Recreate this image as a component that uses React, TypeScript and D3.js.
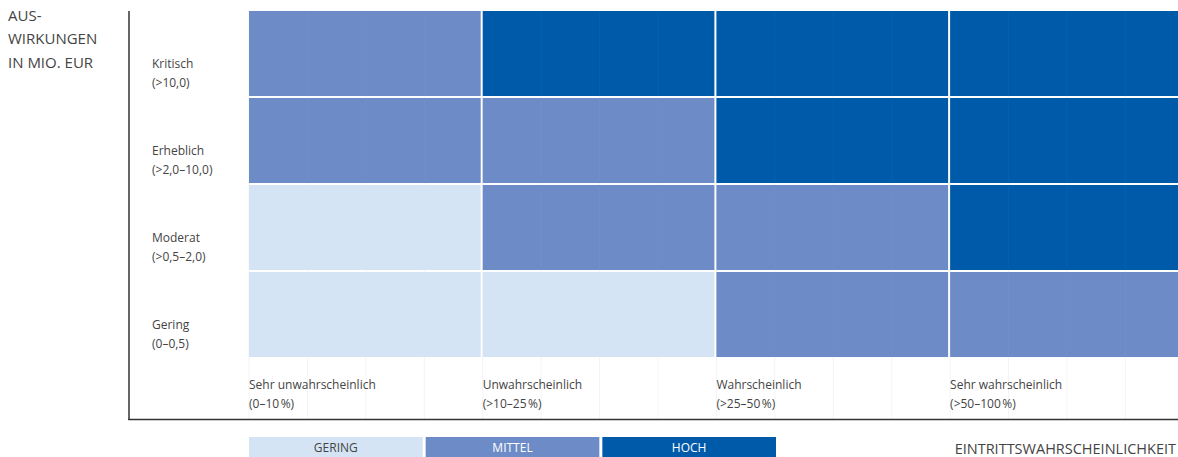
import React from "react";
import * as d3 from "d3";

const probabilities = ["Sehr unwahrscheinlich", "Unwahrscheinlich", "Wahrscheinlich", "Sehr wahrscheinlich"];
const probabilityRanges = ["(0\u201310\u202f%)", "(>10\u201325\u202f%)", "(>25\u201350\u202f%)", "(>50\u2013100\u202f%)"];
const impacts = ["Kritisch", "Erheblich", "Moderat", "Gering"];
const impactRanges = ["(>10,0)", "(>2,0\u201310,0)", "(>0,5\u20132,0)", "(0\u20130,5)"];
// risk level per impact row (0 = gering, 1 = mittel, 2 = hoch)
const riskKritisch = [1, 2, 2, 2];
const riskErheblich = [1, 1, 2, 2];
const riskModerat = [0, 1, 1, 2];
const riskGering = [0, 0, 1, 1];
const levels = ["GERING", "MITTEL", "HOCH"];
const yTitle = ["AUS-", "WIRKUNGEN", "IN MIO. EUR"];
const xTitle = "EINTRITTSWAHRSCHEINLICHKEIT";

const matrix = [riskKritisch, riskErheblich, riskModerat, riskGering];
const colors = ["#d4e4f4", "#6d8bc6", "#005aaa"];
const textColor = "#444";
const font = "'Open Sans', 'Noto Sans', sans-serif";

export default function App() {
  const W = 1178, H = 457;
  const colStep = 233.7;
  const rowStep = 87;
  const x = d3
    .scaleBand<string>()
    .domain(probabilities)
    .range([249, 249 + colStep * 4 - 2])
    .paddingInner(2 / colStep);
  const y = d3
    .scaleBand<string>()
    .domain(impacts)
    .range([11, 11 + rowStep * 4 - 2])
    .paddingInner(2 / rowStep);
  const color = d3.scaleOrdinal<number, string>().domain([0, 1, 2]).range(colors);
  const legendX = d3.scaleBand<string>().domain(levels).range([249, 776]).paddingInner(3 / 176);

  const gridXs: number[] = [];
  probabilities.forEach((p) => {
    for (let k = 0; k < 4; k++) gridXs.push((x(p) as number) + (k * x.step()) / 4);
  });

  return (
    <svg width={W} height={H} style={{ position: "absolute", left: 0, top: 0 }} fontFamily={font}>
      <rect width={W} height={H} fill="#fff" />
      {/* faint grid */}
      {gridXs.map((gx, i) => (
        <line key={"g" + i} x1={gx} x2={gx} y1={11} y2={419} stroke="#f2f4f8" strokeWidth={1} />
      ))}
      {matrix.map((row, ri) =>
        row.map((v, ci) => (
          <rect
            key={ri + "-" + ci}
            x={x(probabilities[ci])}
            y={y(impacts[ri])}
            width={x.bandwidth()}
            height={y.bandwidth()}
            fill={color(v)}
          />
        ))
      )}
      {gridXs.map((gx, i) => (
        <line key={"go" + i} x1={gx} x2={gx} y1={11} y2={357} stroke="#ffffff" strokeOpacity={0.03} strokeWidth={1} />
      ))}
      {/* axes */}
      <line x1={129} x2={129} y1={11} y2={420} stroke="#333" strokeWidth={1.5} />
      <line x1={128.25} x2={W} y1={419.5} y2={419.5} stroke="#333" strokeWidth={1.5} />
      {/* y title */}
      {yTitle.map((t, i) => (
        <text key={"yt" + i} x={8} y={20.5 + i * 23.5} fontSize={15} fill={textColor}>
          {t}
        </text>
      ))}
      {/* row labels */}
      {impacts.map((imp, i) => (
        <g key={"rl" + i}>
          <text x={152} y={(y(imp) as number) + 57} fontSize={12} fill={textColor}>
            {imp}
          </text>
          <text x={152} y={(y(imp) as number) + 76} fontSize={12} fill={textColor}>
            {impactRanges[i]}
          </text>
        </g>
      ))}
      {/* column labels */}
      {probabilities.map((p, i) => (
        <g key={"cl" + i}>
          <text x={x(p)} y={389} fontSize={12} fill={textColor}>
            {p}
          </text>
          <text x={x(p)} y={408} fontSize={12} fill={textColor}>
            {probabilityRanges[i]}
          </text>
        </g>
      ))}
      {/* legend */}
      {levels.map((l, i) => (
        <g key={"lg" + i}>
          <rect x={legendX(l)} y={437} width={legendX.bandwidth()} height={22} fill={colors[i]} />
          <text
            x={(legendX(l) as number) + legendX.bandwidth() / 2}
            y={452}
            textAnchor="middle"
            fontSize={12}
            fill={i === 0 ? textColor : "#fff"}
          >
            {l}
          </text>
        </g>
      ))}
      <text x={1176} y={454} textAnchor="end" fontSize={14.5} fill={textColor}>
        {xTitle}
      </text>
    </svg>
  );
}
